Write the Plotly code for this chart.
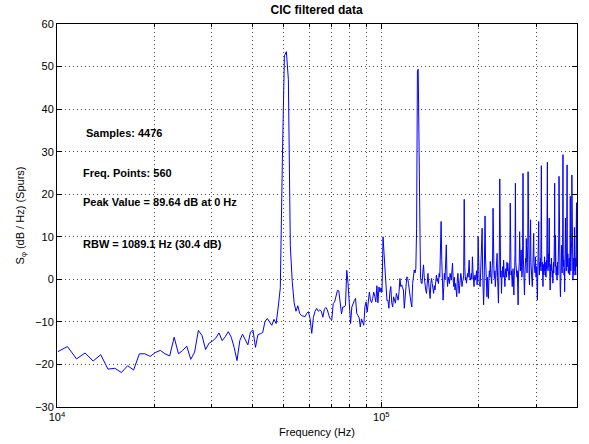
import numpy as np
import plotly.graph_objects as go

# ---- data -------------------------------------------------------------
bin_width_hz = 718.0          # frequency step between bins
first_bin = 14                # first bin shown (just above 10 kHz)

spur_db = [
    -17.0, -15.8, -18.7, -17.3, -19.2, -17.7,
    -21.1, -20.9, -21.9, -20.3, -21.3, -17.5, -17.5, -18.1, -17.2, -16.7,
    -17.5, -18.0, -13.6, -17.5, -16.7, -15.7, -18.8, -17.1, -12.0, -13.2,
    -16.5, -15.0, -14.5, -13.8, -12.6, -14.4, -13.5, -12.3, -13.6, -16.0,
    -19.1, -14.4, -12.9, -14.0, -15.4, -12.4, -11.9, -16.0, -13.0, -12.8,
    -12.5, -9.9, -9.2, -10.0, -10.8, -9.4, -10.4, -6.5, -2.0, 28.0,
    52.5, 53.5, 47.0, 8.0, -0.5, -5.5, -7.5, -6.2, -8.0, -8.5,
    -8.6, -8.8, -8.0, -7.6, -9.2, -12.7, -9.0, -7.5, -6.8, -7.5,
    -7.2, -7.5, -8.9, -7.0, -6.6, -7.2, -8.5, -9.3, -9.6, -5.7,
    -5.3, -4.0, -2.6, -2.7, -5.3, -8.1, -6.5, -6.5, -6.1, 2.1,
    -1.0, -7.0, -10.4, -6.5, -5.5, -5.0, -4.5, -8.0, -8.5, -9.0,
    -11.2, -9.3, -10.0, -10.8, -6.5, -5.3, -7.7, -5.0, -3.0, -4.9,
    -5.5, -4.5, -3.0, -4.0, -5.3, -1.5, -5.5, -1.8, -3.0, -2.0,
    -3.0, 10.0, 6.0, 1.0, -3.7, -5.0, -4.9, -6.8, -3.0, -1.7,
    -5.5, -6.5, -4.1, -5.0, -5.6, -3.3, -4.0, -4.9, -2.9, 0.2,
    -1.7, -1.3, -2.0, -2.5, -6.8, -3.0, -1.7, 0.6, 0.2, -1.0,
    -2.1, -4.1, -5.5, -6.5, -1.0, 1.8, 2.2, 1.5, 2.5, 12.0,
    49.0, 49.4, 28.0, 6.0, 0.5, -0.9, -1.0, 1.5, 3.4, 0.5,
    -1.7, -2.6, -3.3, -1.0, 1.4, -1.0, -3.0, -4.5, -0.9, 0.2,
    -1.0, -2.0, -3.3, -1.5, -2.5, -0.5, 1.0, -0.5, 0.2, -1.0,
    1.4, 0.5, 5.0, 13.6, 4.5, 0.0, -4.9, -2.0, 1.4, 0.0,
    4.0, 8.1, 1.0, -1.7, 0.5, -0.2, -1.0, 1.4, 0.0, -0.2,
    2.0, 3.8, 0.0, -1.7, 0.5, -2.5, -1.0, -3.0, -4.1, 0.0,
    1.4, -1.0, -3.3, -1.5, -0.2, 1.4, 0.5, -1.7, -0.5, -0.2,
    1.0, 18.8, 3.0, -0.2, 0.5, -0.9, 0.0, 1.4, 0.5, 2.5,
    4.5, 0.5, -0.2, 0.5, 1.4, 0.0, 5.3, 2.0, 0.0, -1.7,
    0.5, 1.0, -0.2, 0.8, 2.0, -1.3, 1.0, 10.0, 2.0, -0.5,
    -1.0, -1.7, 1.5, 4.0, 6.0, 12.0, 2.0, -1.0, -6.0, -2.0,
    3.0, 14.9, 5.0, 1.0, -2.0, -4.1, 0.5, -1.0, -4.5, 0.0,
    2.0, 0.5, 4.2, 1.5, 0.6, -1.0, 2.5, 5.0, 16.7, 4.0,
    1.5, 0.2, 2.0, -1.7, 0.5, 1.5, 3.0, 6.1, 0.5, -2.0,
    -5.6, 1.0, 5.0, 23.6, 3.0, 0.5, 2.0, -3.3, 0.0, 1.5,
    3.0, 0.5, 4.5, 2.0, 0.5, -1.7, 1.0, 2.5, 1.8, 0.5,
    4.0, 2.0, 3.8, 1.0, 2.5, -0.2, 1.0, 5.0, 17.9, 3.0,
    1.0, 2.0, 0.5, -1.7, 1.0, 2.5, 0.0, -3.7, 1.0, 2.0,
    6.0, 22.6, 4.0, 1.5, 3.0, 0.5, 2.0, -2.0, -6.0, 1.0,
    3.0, 4.0, 11.2, 3.5, 2.0, 4.5, 6.9, 3.0, 0.5, 2.0,
    8.0, 24.9, 5.0, 1.0, 3.5, -3.7, 0.5, 2.0, 5.0, 4.0,
    9.6, 3.0, 1.5, 4.0, 8.0, 25.3, 5.0, 2.0, 0.5, -1.3,
    2.0, 4.5, 14.0, 4.0, 2.0, 3.5, 1.0, -1.7, 1.0, 3.0,
    5.0, 10.8, 4.0, 2.0, 3.0, 1.5, 5.3, 2.5, 0.5, 3.0,
    1.0, -2.0, -4.9, 1.5, 4.0, 6.0, 13.6, 3.0, 1.0, 4.0,
    2.0, 5.0, 3.0, 10.0, 26.7, 6.0, 2.0, 4.0, 1.0, -1.7,
    2.0, 3.5, 1.0, 3.0, 5.3, 2.0, 4.0, 1.0, 3.0, 0.5,
    4.5, 2.5, 9.0, 27.5, 5.0, 2.0, 6.0, 3.0, 8.0, 14.4,
    4.0, 1.0, -2.5, 1.0, 3.5, 2.0, 5.0, 1.0, 3.0, 0.5,
    2.0, -0.9, 2.0, 4.0, 1.5, 5.0, 9.0, 22.6, 6.0, 3.0,
    10.4, 4.0, 1.0, 3.0, 2.0, -0.2, 2.5, 4.0, 1.0, 3.5,
    6.0, 10.0, 24.2, 5.0, 2.0, 0.5, -2.0, -4.1, 1.0, 3.0,
    5.0, 8.0, 3.0, 1.5, 4.0, 10.0, 29.3, 6.0, 3.0, 4.5,
    1.0, 2.5, -2.9, 1.0, 5.0, 14.4, 6.0, 3.0, 2.0, 4.0,
    12.0, 26.9, 5.0, 3.0, 6.0, 2.0, 1.4, 4.0, 2.5, 5.0,
    3.0, 1.0, 8.0, 19.5, 4.0, 2.0, 5.0, 3.0, 9.0, 24.5,
    6.0, 2.0, 4.0, -0.2, 2.5, 5.0, 3.0, 1.0, 6.0, 12.2,
    4.0, 2.0, 5.0, 3.5, 1.0, 4.0, 6.9, 18.0, 3.0, 5.0,
]

freq_hz = (first_bin + np.arange(len(spur_db))) * bin_width_hz

x_major_ticks = [1e4, 1e5]
x_major_labels = ["10<sup>4</sup>", "10<sup>5</sup>"]
x_minor_ticks = [2e4, 3e4, 4e4, 5e4, 6e4, 7e4, 8e4, 9e4, 2e5, 3e5, 4e5]
y_ticks = [-30, -20, -10, 0, 10, 20, 30, 40, 50, 60]

info_lines = [
    ("Samples: 4476", 0.052, 0.715),
    ("Freq. Points: 560", 0.046, 0.610),
    ("Peak Value = 89.64 dB at 0 Hz", 0.046, 0.535),
    ("RBW = 1089.1 Hz (30.4 dB)", 0.046, 0.4255),
]

# ---- figure -----------------------------------------------------------
FONT = "Liberation Sans, Arial, Helvetica, sans-serif"
GRID = "rgb(80,80,80)"
DOTS = "1px,3px"

fig = go.Figure()
fig.add_trace(go.Scatter(
    x=freq_hz, y=spur_db, mode="lines",
    line=dict(color="rgb(0,0,255)", width=1),
    showlegend=False, hoverinfo="x+y",
))

fig.update_layout(
    width=589, height=444,
    margin=dict(l=57, r=12, t=24, b=37, autoexpand=False),
    paper_bgcolor="white", plot_bgcolor="white",
    font=dict(family=FONT, size=11, color="black"),
    title=dict(text="<b>CIC filtered data</b>", x=0.5375, xanchor="center",
               y=0.977, yanchor="middle", font=dict(size=12, color="black"),
               automargin=False),
    xaxis=dict(
        type="log", automargin=False,
        range=[4, np.log10(freq_hz[-1])],
        tickmode="array", tickvals=x_major_ticks, ticktext=x_major_labels,
        ticks="inside", ticklen=5, tickcolor="black",
        showline=True, linecolor="black", linewidth=1, mirror="ticks",
        showgrid=True, gridcolor=GRID, griddash=DOTS, gridwidth=1,
        minor=dict(tickmode="array", tickvals=x_minor_ticks, ticks="inside",
                   ticklen=3, tickcolor="black", showgrid=True,
                   gridcolor=GRID, griddash=DOTS, gridwidth=1),
        zeroline=False,
        title=dict(text="Frequency (Hz)", standoff=6, font=dict(size=11)),
        tickfont=dict(size=11),
    ),
    yaxis=dict(
        automargin=False,
        range=[-30, 60],
        tickmode="array", tickvals=y_ticks,
        ticks="inside", ticklen=5, tickcolor="black",
        showline=True, linecolor="black", linewidth=1, mirror="ticks",
        showgrid=True, gridcolor=GRID, griddash=DOTS, gridwidth=1,
        zeroline=False,
        title=dict(text="S<sub>φ</sub> (dB / Hz) (Spurs)", standoff=8,
                   font=dict(size=11)),
        tickfont=dict(size=11),
    ),
)

for text, px, py in info_lines:
    fig.add_annotation(
        text=f"<b>{text}</b>", xref="paper", yref="paper", x=px, y=py,
        xanchor="left", yanchor="middle", showarrow=False,
        font=dict(size=11, color="black", family=FONT),
    )

fig.write_html(
    "out.html",
    config={"displayModeBar": False},
    post_script="document.body.style.margin='0px';",
)
